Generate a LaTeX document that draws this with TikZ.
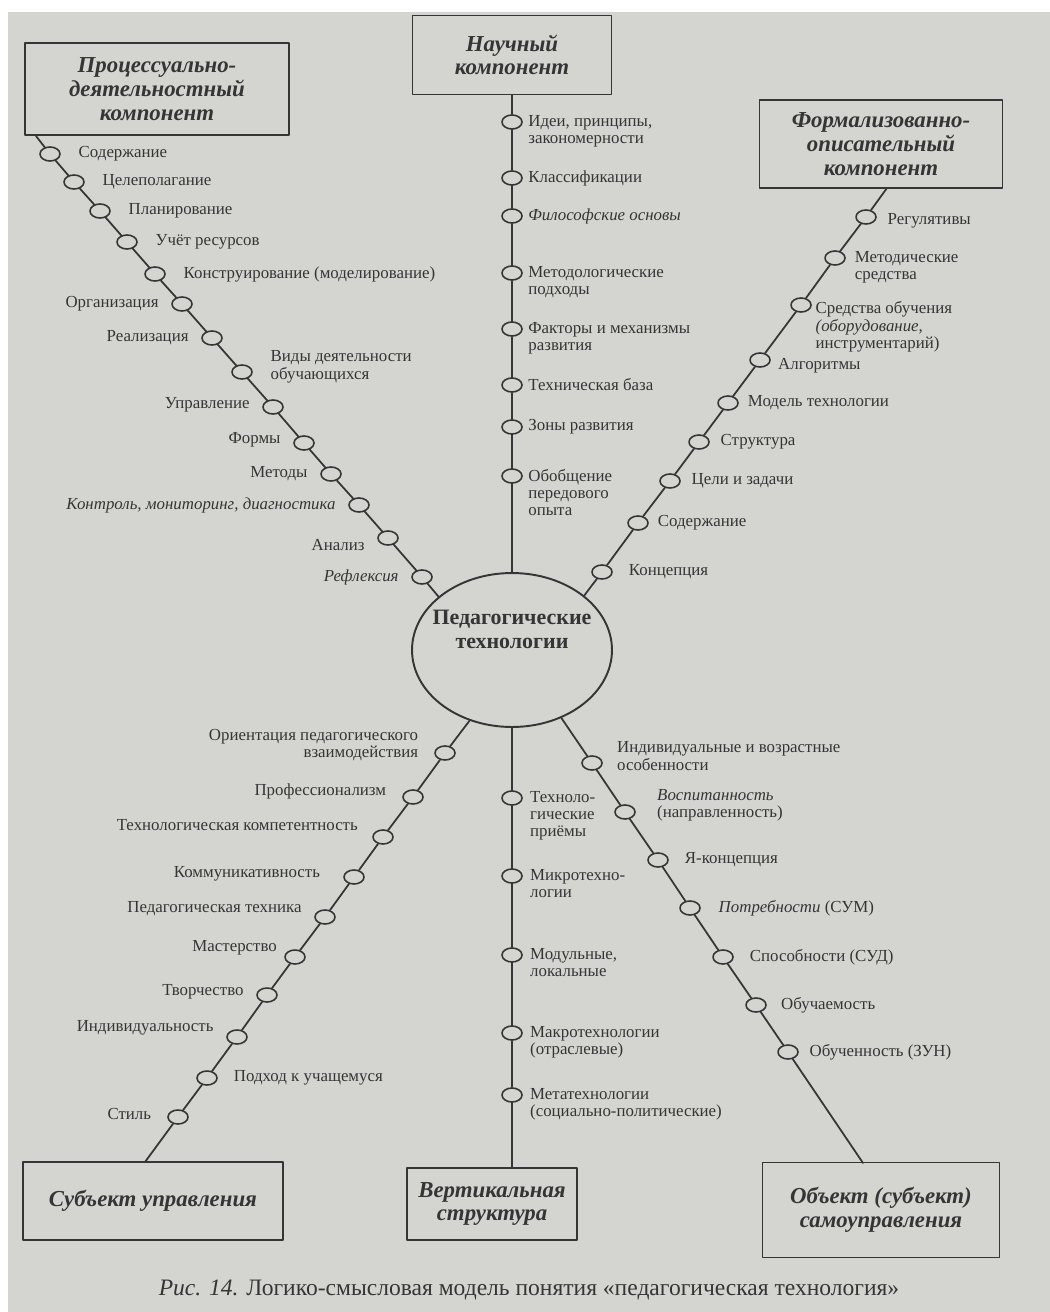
\documentclass[tikz,border=0pt]{standalone}
\usepackage{fontspec}
\setmainfont{Liberation Serif}
\usetikzlibrary{positioning,shapes.geometric,calc}

\begin{document}
\begin{tikzpicture}[x=0.02cm,y=-0.02cm,line cap=round,line join=round,
  box/.style={draw=ink,line width=1.1pt,align=center,inner sep=2pt,text=ink,
    font=\bfseries\itshape\fontsize{13}{13.5}\selectfont},
  bead/.style={draw=ink,ellipse,line width=0.9pt,minimum width=0.4cm,
    minimum height=0.28cm,inner sep=0pt},
  branch/.style={draw=ink,line width=1pt},
  lbl/.style={text=ink,inner sep=1pt,font=\fontsize{9.6}{9.8}\selectfont},
  lr/.style={lbl,align=left},
  ll/.style={lbl,align=right},
  first/.style={anchor=north west,yshift=5pt}]
  \definecolor{paper}{HTML}{D4D4D0}
  \definecolor{ink}{HTML}{353535}

  \useasboundingbox (0,0) rectangle (1050,1312);
  \fill[white] (0,0) rectangle (1050,1312);
  \fill[paper] (8,12) rectangle (1050,1312);

  % centre
  \node[draw=ink,ellipse,line width=1.1pt,minimum width=4cm,minimum height=3.08cm] (cen) at (512,650) {};
  \node[text=ink,align=center,font=\bfseries\fontsize{12.5}{13.6}\selectfont] (centxt) at (512,629) {Педагогические\\технологии};

  % outer boxes
  \node[box,minimum width=5.28cm,minimum height=1.84cm] (pdk) at (157,89) {Процессуально-\\деятельностный\\компонент};
  \node[box,minimum width=3.98cm,minimum height=1.58cm] (nauch) at (512,55) {Научный\\компонент};
  \node[box,minimum width=4.86cm,minimum height=1.76cm] (form) at (881,144) {Формализованно-\\описательный\\компонент};
  \node[box,minimum width=5.2cm,minimum height=1.56cm] (subj) at (153,1201) {Субъект управления};
  \node[box,minimum width=3.4cm,minimum height=1.44cm] (vert) at (492,1204) {Вертикальная\\структура};
  \node[box,minimum width=4.74cm,minimum height=1.9cm] (obj) at (881,1210) {Объект (субъект)\\самоуправления};

  % where the branches leave the boxes
  \coordinate (pdkfoot) at (36,136);
  \coordinate (formfoot) at (887,188);
  \coordinate (subjfoot) at (145,1162);
  \coordinate (vertfoot) at (512,1168);
  \coordinate (objfoot) at (863,1163);

  % upper left branch
  \node[bead] (a1) at (50,154) {};
  \node[bead] (a2) at (74,182) {};
  \node[bead] (a3) at (100,211) {};
  \node[bead] (a4) at (127,242) {};
  \node[bead] (a5) at (155,274) {};
  \node[bead] (a6) at (182,304) {};
  \node[bead] (a7) at (212,338) {};
  \node[bead] (a8) at (242,372) {};
  \node[bead] (a9) at (273,407) {};
  \node[bead] (a10) at (304,443) {};
  \node[bead] (a11) at (331,474) {};
  \node[bead] (a12) at (359,505) {};
  \node[bead] (a13) at (388,538) {};
  \node[bead] (a14) at (422,577) {};
  \draw[branch] (pdkfoot) -- (a1) -- (a2) -- (a3) -- (a4) -- (a5) -- (a6) -- (a7)
    -- (a8) -- (a9) -- (a10) -- (a11) -- (a12) -- (a13) -- (a14) -- (cen.144);
  \node[lr,right=9pt of a1] (ta1) {Содержание};
  \node[lr,right=9pt of a2] (ta2) {Целеполагание};
  \node[lr,right=9pt of a3] (ta3) {Планирование};
  \node[lr,right=9pt of a4] (ta4) {Учёт ресурсов};
  \node[lr,right=9pt of a5] (ta5) {Конструирование (моделирование)};
  \node[ll,left=6pt of a6] (ta6) {Организация};
  \node[ll,left=6pt of a7] (ta7) {Реализация};
  \node[lr,right=9pt of a8,yshift=3pt] (ta8) {Виды деятельности\\обучающихся};
  \node[ll,left=6pt of a9,yshift=1pt] (ta9) {Управление};
  \node[ll,left=6pt of a10,yshift=2pt] (ta10) {Формы};
  \node[ll,left=6pt of a11] (ta11) {Методы};
  \node[ll,left=6pt of a12] (ta12) {\itshape Контроль, мониторинг, диагностика};
  \node[ll,left=6pt of a13,yshift=-4pt] (ta13) {Анализ};
  \node[ll,left=6pt of a14] (ta14) {\itshape Рефлексия};

  % upper vertical branch
  \node[bead] (b1) at (512,122) {};
  \node[bead] (b2) at (512,178) {};
  \node[bead] (b3) at (512,216) {};
  \node[bead] (b4) at (512,273) {};
  \node[bead] (b5) at (512,329) {};
  \node[bead] (b6) at (512,385) {};
  \node[bead] (b7) at (512,427) {};
  \node[bead] (b8) at (512,476) {};
  \draw[branch] (nauch) -- (b1) -- (b2) -- (b3) -- (b4) -- (b5) -- (b6) -- (b7) -- (b8) -- (cen);
  \node[lr,right=2pt of b1,first] (tb1) {Идеи, принципы,\\закономерности};
  \node[lr,right=2pt of b2] (tb2) {Классификации};
  \node[lr,right=2pt of b3] (tb3) {\itshape Философские основы};
  \node[lr,right=2pt of b4,first] (tb4) {Методологические\\подходы};
  \node[lr,right=2pt of b5,first] (tb5) {Факторы и механизмы\\развития};
  \node[lr,right=2pt of b6] (tb6) {Техническая база};
  \node[lr,right=2pt of b7] (tb7) {Зоны развития};
  \node[lr,right=2pt of b8,first] (tb8) {Обобщение\\передового\\опыта};

  % upper right branch
  \node[bead] (c1) at (866,217) {};
  \node[bead] (c2) at (835,258) {};
  \node[bead] (c3) at (801,305) {};
  \node[bead] (c4) at (760,360) {};
  \node[bead] (c5) at (728,403) {};
  \node[bead] (c6) at (699,442) {};
  \node[bead] (c7) at (670,481) {};
  \node[bead] (c8) at (638,523) {};
  \node[bead] (c9) at (602,572) {};
  \draw[branch] (formfoot) -- (c1) -- (c2) -- (c3) -- (c4) -- (c5) -- (c6) -- (c7)
    -- (c8) -- (c9) -- (cen.37);
  \node[lr,right=5pt of c1,yshift=-2pt] (tc1) {Регулятивы};
  \node[lr,right=4pt of c2,first] (tc2) {Методические\\средства};
  \node[lr,right=1pt of c3,first,yshift=-2pt] (tc3) {Средства обучения\\\itshape(оборудование,\\инструментарий)};
  \node[lr,right=3pt of c4,yshift=-3pt] (tc4) {Алгоритмы};
  \node[lr,right=4pt of c5] (tc5) {Модель технологии};
  \node[lr,right=5pt of c6] (tc6) {Структура};
  \node[lr,right=5pt of c7] (tc7) {Цели и задачи};
  \node[lr,right=4pt of c8] (tc8) {Содержание};
  \node[lr,right=8pt of c9] (tc9) {Концепция};

  % lower left branch
  \node[bead] (d1) at (445,753) {};
  \node[bead] (d2) at (413,797) {};
  \node[bead] (d3) at (383,837) {};
  \node[bead] (d4) at (354,877) {};
  \node[bead] (d5) at (325,917) {};
  \node[bead] (d6) at (295,957) {};
  \node[bead] (d7) at (267,995) {};
  \node[bead] (d8) at (237,1037) {};
  \node[bead] (d9) at (207,1078) {};
  \node[bead] (d10) at (178,1117) {};
  \draw[branch] (cen.239) -- (d1) -- (d2) -- (d3) -- (d4) -- (d5) -- (d6) -- (d7)
    -- (d8) -- (d9) -- (d10) -- (subjfoot);
  \node[ll,left=8pt of d1,yshift=4.5pt] (td1) {Ориентация педагогического\\взаимодействия};
  \node[ll,left=8pt of d2,yshift=3pt] (td2) {Профессионализм};
  \node[ll,left=7pt of d3,yshift=7pt] (td3) {Технологическая компетентность};
  \node[ll,left=12pt of d4,yshift=2pt] (td4) {Коммуникативность};
  \node[ll,left=6pt of d5,yshift=5pt] (td5) {Педагогическая техника};
  \node[ll,left=3pt of d6,yshift=5pt] (td6) {Мастерство};
  \node[ll,left=6pt of d7,yshift=2pt] (td7) {Творчество};
  \node[ll,left=6pt of d8,yshift=5pt] (td8) {Индивидуальность};
  \node[lr,right=8pt of d9] (td9) {Подход к учащемуся};
  \node[ll,left=8pt of d10,yshift=2pt] (td10) {Стиль};

  % lower vertical branch
  \node[bead] (e1) at (512,798) {};
  \node[bead] (e2) at (512,876) {};
  \node[bead] (e3) at (512,955) {};
  \node[bead] (e4) at (512,1033) {};
  \node[bead] (e5) at (512,1095) {};
  \draw[branch] (cen) -- (e1) -- (e2) -- (e3) -- (e4) -- (e5) -- (vertfoot);
  \node[lr,right=3pt of e1,first] (te1) {Техноло-\\гические\\приёмы};
  \node[lr,right=3pt of e2,first] (te2) {Микротехно-\\логии};
  \node[lr,right=3pt of e3,first] (te3) {Модульные,\\локальные};
  \node[lr,right=3pt of e4,first] (te4) {Макротехнологии\\(отраслевые)};
  \node[lr,right=3pt of e5,first] (te5) {Метатехнологии\\(социально-политические)};

  % lower right branch
  \node[bead] (f1) at (592,763) {};
  \node[bead] (f2) at (625,812) {};
  \node[bead] (f3) at (658,860) {};
  \node[bead] (f4) at (690,908) {};
  \node[bead] (f5) at (723,957) {};
  \node[bead] (f6) at (756,1005) {};
  \node[bead] (f7) at (788,1052) {};
  \draw[branch] (cen.306) -- (f1) -- (f2) -- (f3) -- (f4) -- (f5) -- (f6) -- (f7) -- (objfoot);
  \node[lr,right=7pt of f1,yshift=4pt] (tf1) {Индивидуальные и возрастные\\особенности};
  \node[lr,right=11pt of f2,yshift=4pt] (tf2) {\itshape Воспитанность\\(направленность)};
  \node[lr,right=8pt of f3] (tf3) {Я-концепция};
  \node[lr,right=9pt of f4] (tf4) {\textit{Потребности} (СУМ)};
  \node[lr,right=8pt of f5] (tf5) {Способности (СУД)};
  \node[lr,right=7pt of f6] (tf6) {Обучаемость};
  \node[lr,right=5pt of f7] (tf7) {Обученность (ЗУН)};

  % caption
  \node[text=ink,font=\fontsize{13.4}{15}\selectfont] (cap) at (529,1290)
    {\textit{Рис. 14.} Логико-смысловая модель понятия «педагогическая технология»};
\end{tikzpicture}
\end{document}
